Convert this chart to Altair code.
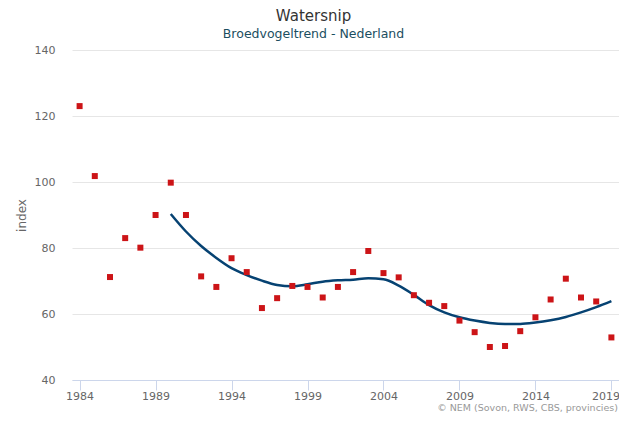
import altair as alt
import pandas as pd

years = list(range(1984, 2020))
index_values = [123.0, 101.8, 71.2, 83.0, 80.1, 90.0, 99.8, 90.0, 71.4, 68.2,
                76.9, 72.7, 61.8, 64.8, 68.5, 68.2, 65.0, 68.2, 72.7, 79.1,
                72.4, 71.1, 65.7, 63.4, 62.4, 58.0, 54.5, 50.0, 50.3, 54.8,
                59.0, 64.4, 70.7, 65.0, 63.8, 52.9]

trend_years = list(range(1990, 2020))
trend_values = [90.3, 85.0, 80.6, 77.0, 73.9, 71.8, 70.1, 68.8, 68.4, 69.0,
                69.8, 70.2, 70.4, 70.8, 70.5, 68.6, 65.8, 62.7, 60.5, 59.0,
                58.0, 57.3, 57.0, 57.0, 57.4, 58.1, 59.1, 60.5, 62.1, 63.9]

x_ticks = [1984, 1989, 1994, 1999, 2004, 2009, 2014, 2019]
y_ticks = [40, 60, 80, 100, 120, 140]

title_text = "Watersnip"
subtitle_text = "Broedvogeltrend - Nederland"
credit_text = "© NEM (Sovon, RWS, CBS, provincies)"

pts = pd.DataFrame({"jaar": years, "index": index_values})
trend = pd.DataFrame({"jaar": trend_years, "index": trend_values})

FONT = "DejaVu Sans"

xscale = alt.Scale(domain=[1983.5, 2019.5], nice=False, zero=False)
yscale = alt.Scale(domain=[40, 140], nice=False, zero=False)

xaxis = alt.Axis(values=x_ticks, format="d", title=None, grid=False,
                 domainColor="#ccd6eb", tickColor="#ccd6eb", tickSize=10,
                 labelColor="#666666", labelFontSize=11, labelFont=FONT,
                 labelPadding=0, labelFlush=False,
                 labelOffset={"condition": {"test": "datum.value == 2019", "value": -6}, "value": 0})
yaxis = alt.Axis(values=y_ticks, title="index", grid=True, gridColor="#e6e6e6",
                 domain=False, ticks=False, labelColor="#666666", labelFontSize=11,
                 labelFont=FONT, labelPadding=17, titleFont=FONT, titleFontSize=12,
                 titleFontWeight="normal", titleColor="#666666", titlePadding=6)

points = alt.Chart(pts).mark_square(size=36, color="#cc1417", opacity=1).encode(
    x=alt.X("jaar:Q", scale=xscale, axis=xaxis),
    y=alt.Y("index:Q", scale=yscale, axis=yaxis),
)

line = alt.Chart(trend).mark_line(color="#064272", strokeWidth=2.5, interpolate="monotone").encode(
    x=alt.X("jaar:Q", scale=xscale),
    y=alt.Y("index:Q", scale=yscale),
)

credit = alt.Chart(pd.DataFrame({"t": [credit_text]})).mark_text(
    align="right", baseline="alphabetic", fontSize=9.5, color="#999999", font=FONT
).encode(text="t:N", x=alt.value(546), y=alt.value(360.5))

chart = alt.layer(line, points, credit).properties(
    width=547, height=330,
    padding={"left": 64, "top": 42, "right": 0, "bottom": 33},
    autosize=alt.AutoSizeParams(type="none"),
    title=alt.TitleParams(text=title_text, subtitle=subtitle_text, anchor="middle",
                          font=FONT, fontSize=15, fontWeight="normal", color="#333333",
                          subtitleFont=FONT, subtitleFontSize=12.5, subtitleColor="#1b4e5f",
                          subtitlePadding=4, offset=4, dx=-32),
).configure_view(stroke=None)

chart.save("out.html", embed_options={"renderer": "svg", "actions": False})
